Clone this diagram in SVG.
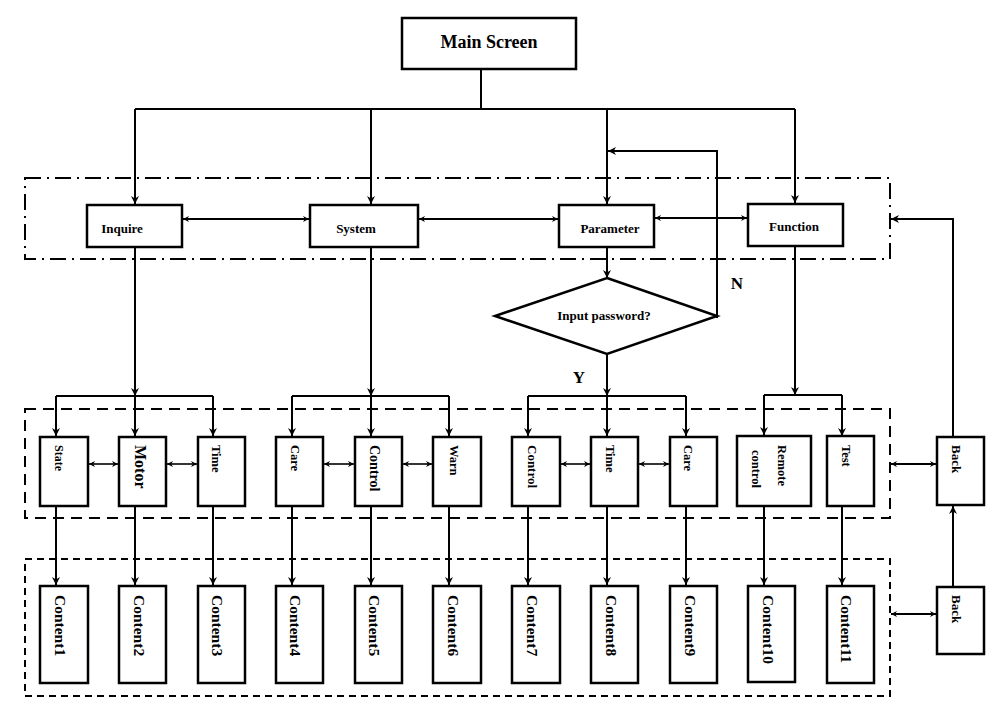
<svg xmlns="http://www.w3.org/2000/svg" width="992" height="716" viewBox="0 0 992 716">
<style>
.box{fill:#fff;stroke:#000;stroke-width:2.5}
.t{font-family:"Liberation Serif","Times New Roman",serif;font-weight:bold;fill:#000}
.c{fill:none;stroke:#000;stroke-width:2}
.thin{fill:none;stroke:#000;stroke-width:1.6}
.grp{fill:none;stroke:#000;stroke-width:2}
</style>
<defs>
<marker id="ah" viewBox="0 0 10 10" refX="10" refY="5" markerWidth="9" markerHeight="8" orient="auto-start-reverse" markerUnits="userSpaceOnUse">
<path d="M0,0 L10,5 L0,10 L3,5 z" fill="#000"/>
</marker>
<marker id="sh" viewBox="0 0 10 10" refX="10" refY="5" markerWidth="8" markerHeight="6" orient="auto-start-reverse" markerUnits="userSpaceOnUse">
<path d="M0,0 L10,5 L0,10 L3,5 z" fill="#000"/>
</marker>
</defs>
<rect width="992" height="716" fill="#fff"/>

<g id="groups">
<rect class="grp" x="25" y="178" width="865" height="81" stroke-dasharray="16 6 2 6"/>
<rect class="grp" x="25" y="409" width="865" height="109" stroke-dasharray="11 7"/>
<rect class="grp" x="25" y="559" width="865" height="137" stroke-dasharray="7 5"/>
</g>

<g id="connectors">
<path class="c" d="M481,69 V109 M135,109 H795"/>
<path class="c" d="M135,109 V204" marker-end="url(#ah)"/>
<path class="c" d="M371,109 V204" marker-end="url(#ah)"/>
<path class="c" d="M607,109 V204" marker-end="url(#ah)"/>
<path class="c" d="M795,109 V203" marker-end="url(#ah)"/>
<path class="c" d="M183,219 H309" marker-start="url(#sh)" marker-end="url(#sh)"/>
<path class="c" d="M419,219 H558" marker-start="url(#sh)" marker-end="url(#sh)"/>
<path class="c" d="M655,218 H747" marker-start="url(#sh)" marker-end="url(#sh)"/>
<path class="c" d="M607,247 V278" marker-end="url(#ah)"/>
<path class="c" d="M717,318 V151 H608" marker-end="url(#ah)"/>
<path class="c" d="M607,354 V396" marker-end="url(#ah)"/>

<path class="c" d="M135,247 V396" marker-end="url(#ah)"/>
<path class="c" d="M56,396 H213"/>
<path class="c" d="M56,396 V436" marker-end="url(#ah)"/>
<path class="c" d="M135,396 V436" marker-end="url(#ah)"/>
<path class="c" d="M213,396 V436" marker-end="url(#ah)"/>

<path class="c" d="M371,247 V396" marker-end="url(#ah)"/>
<path class="c" d="M292,396 H449"/>
<path class="c" d="M292,396 V436" marker-end="url(#ah)"/>
<path class="c" d="M371,396 V436" marker-end="url(#ah)"/>
<path class="c" d="M449,396 V436" marker-end="url(#ah)"/>

<path class="c" d="M528,396 H686"/>
<path class="c" d="M528,396 V436" marker-end="url(#ah)"/>
<path class="c" d="M607,396 V436" marker-end="url(#ah)"/>
<path class="c" d="M686,396 V436" marker-end="url(#ah)"/>

<path class="c" d="M795,246 V395" marker-end="url(#ah)"/>
<path class="c" d="M764,395 H842"/>
<path class="c" d="M764,395 V435" marker-end="url(#ah)"/>
<path class="c" d="M842,395 V436" marker-end="url(#ah)"/>

<path class="thin" d="M89,464 H118" marker-start="url(#sh)" marker-end="url(#sh)"/>
<path class="thin" d="M167,464 H197" marker-start="url(#sh)" marker-end="url(#sh)"/>
<path class="thin" d="M324,464 H354" marker-start="url(#sh)" marker-end="url(#sh)"/>
<path class="thin" d="M403,464 H432" marker-start="url(#sh)" marker-end="url(#sh)"/>
<path class="thin" d="M561,464 H590" marker-start="url(#sh)" marker-end="url(#sh)"/>
<path class="thin" d="M639,464 H669" marker-start="url(#sh)" marker-end="url(#sh)"/>
<path class="c" d="M891,464 H936" marker-start="url(#sh)" marker-end="url(#sh)"/>
<path class="c" d="M891,614 H936" marker-start="url(#sh)" marker-end="url(#sh)"/>

<path class="c" d="M56,506 V585" marker-end="url(#ah)"/>
<path class="c" d="M135,506 V585" marker-end="url(#ah)"/>
<path class="c" d="M213,506 V585" marker-end="url(#ah)"/>
<path class="c" d="M292,506 V585" marker-end="url(#ah)"/>
<path class="c" d="M371,506 V585" marker-end="url(#ah)"/>
<path class="c" d="M449,506 V585" marker-end="url(#ah)"/>
<path class="c" d="M528,506 V585" marker-end="url(#ah)"/>
<path class="c" d="M607,506 V585" marker-end="url(#ah)"/>
<path class="c" d="M686,506 V585" marker-end="url(#ah)"/>
<path class="c" d="M764,506 V585" marker-end="url(#ah)"/>
<path class="c" d="M842,506 V585" marker-end="url(#ah)"/>

<path class="c" d="M953,587 V506" marker-end="url(#ah)"/>
<path class="c" d="M953,437 V219 H891" marker-end="url(#ah)"/>
</g>

<g id="main"><rect class="box" x="402" y="18" width="174" height="51"/><text class="t" x="489" y="48" font-size="18" text-anchor="middle">Main Screen</text></g>
<g id="inquire"><rect class="box" x="87" y="205" width="95" height="42"/><text class="t" x="122" y="233" font-size="13" text-anchor="middle">Inquire</text></g>
<g id="system"><rect class="box" x="310" y="205" width="108" height="42"/><text class="t" x="356" y="233" font-size="13" text-anchor="middle">System</text></g>
<g id="parameter"><rect class="box" x="559" y="205" width="95" height="42"/><text class="t" x="610" y="233" font-size="13" text-anchor="middle">Parameter</text></g>
<g id="function"><rect class="box" x="748" y="204" width="95" height="42"/><text class="t" x="794" y="231" font-size="13" text-anchor="middle">Function</text></g>
<g id="decision"><polygon points="607,278 717,316 607,354 495,316" fill="#fff" stroke="#000" stroke-width="2.5"/><text class="t" x="604" y="320" font-size="13" text-anchor="middle">Input password?</text></g>
<g id="labelN"><text class="t" x="737" y="289" font-size="17" text-anchor="middle">N</text></g>
<g id="labelY"><text class="t" x="579" y="383" font-size="17" text-anchor="middle">Y</text></g>

<g id="state"><rect class="box" x="40" y="437" width="48" height="69"/><text class="t" transform="translate(59,445) rotate(90)" font-size="12" dominant-baseline="central">State</text></g>
<g id="motor"><rect class="box" x="119" y="437" width="47" height="69"/><text class="t" transform="translate(140,445) rotate(90)" font-size="16" dominant-baseline="central">Motor</text></g>
<g id="time1"><rect class="box" x="198" y="437" width="47" height="69"/><text class="t" transform="translate(216,445) rotate(90)" font-size="12.5" dominant-baseline="central">Time</text></g>
<g id="care1"><rect class="box" x="276" y="437" width="47" height="69"/><text class="t" transform="translate(295,445) rotate(90)" font-size="12.5" dominant-baseline="central">Care</text></g>
<g id="control1"><rect class="box" x="355" y="437" width="47" height="69"/><text class="t" transform="translate(374,445) rotate(90)" font-size="14" dominant-baseline="central">Control</text></g>
<g id="warn"><rect class="box" x="433" y="437" width="48" height="69"/><text class="t" transform="translate(454,445) rotate(90)" font-size="12.5" dominant-baseline="central">Warn</text></g>
<g id="control2"><rect class="box" x="512" y="437" width="48" height="69"/><text class="t" transform="translate(532,445) rotate(90)" font-size="13" dominant-baseline="central">Control</text></g>
<g id="time2"><rect class="box" x="591" y="437" width="47" height="69"/><text class="t" transform="translate(610,445) rotate(90)" font-size="12.5" dominant-baseline="central">Time</text></g>
<g id="care2"><rect class="box" x="670" y="437" width="47" height="69"/><text class="t" transform="translate(688,445) rotate(90)" font-size="12.5" dominant-baseline="central">Care</text></g>
<g id="remote"><rect class="box" x="737" y="436" width="74" height="70"/><text class="t" transform="translate(782,445) rotate(90)" font-size="12.5" dominant-baseline="central">Remote</text><text class="t" transform="translate(756,450) rotate(90)" font-size="12.5" dominant-baseline="central">control</text></g>
<g id="test"><rect class="box" x="827" y="436" width="47" height="70"/><text class="t" transform="translate(846,445) rotate(90)" font-size="12.5" dominant-baseline="central">Test</text></g>
<g id="back1"><rect class="box" x="937" y="437" width="47" height="68"/><text class="t" transform="translate(956,445) rotate(90)" font-size="13" dominant-baseline="central">Back</text></g>

<g id="content1"><rect class="box" x="40" y="586" width="48" height="97"/><text class="t" transform="translate(60,595) rotate(90)" font-size="15.5" dominant-baseline="central">Content1</text></g>
<g id="content2"><rect class="box" x="119" y="586" width="47" height="97"/><text class="t" transform="translate(139,595) rotate(90)" font-size="15.5" dominant-baseline="central">Content2</text></g>
<g id="content3"><rect class="box" x="198" y="586" width="47" height="97"/><text class="t" transform="translate(217,595) rotate(90)" font-size="15.5" dominant-baseline="central">Content3</text></g>
<g id="content4"><rect class="box" x="276" y="586" width="47" height="97"/><text class="t" transform="translate(295,595) rotate(90)" font-size="15.5" dominant-baseline="central">Content4</text></g>
<g id="content5"><rect class="box" x="355" y="586" width="47" height="97"/><text class="t" transform="translate(374,595) rotate(90)" font-size="15.5" dominant-baseline="central">Content5</text></g>
<g id="content6"><rect class="box" x="433" y="586" width="48" height="97"/><text class="t" transform="translate(453,595) rotate(90)" font-size="15.5" dominant-baseline="central">Content6</text></g>
<g id="content7"><rect class="box" x="512" y="586" width="48" height="97"/><text class="t" transform="translate(532,595) rotate(90)" font-size="15.5" dominant-baseline="central">Content7</text></g>
<g id="content8"><rect class="box" x="591" y="586" width="47" height="97"/><text class="t" transform="translate(611,595) rotate(90)" font-size="15.5" dominant-baseline="central">Content8</text></g>
<g id="content9"><rect class="box" x="670" y="586" width="47" height="97"/><text class="t" transform="translate(690,595) rotate(90)" font-size="15.5" dominant-baseline="central">Content9</text></g>
<g id="content10"><rect class="box" x="748" y="586" width="47" height="96"/><text class="t" transform="translate(768,595) rotate(90)" font-size="15.5" dominant-baseline="central">Content10</text></g>
<g id="content11"><rect class="box" x="827" y="586" width="47" height="97"/><text class="t" transform="translate(846,595) rotate(90)" font-size="15.5" dominant-baseline="central">Content11</text></g>
<g id="back2"><rect class="box" x="937" y="587" width="47" height="67"/><text class="t" transform="translate(956,595) rotate(90)" font-size="13" dominant-baseline="central">Back</text></g>
</svg>
